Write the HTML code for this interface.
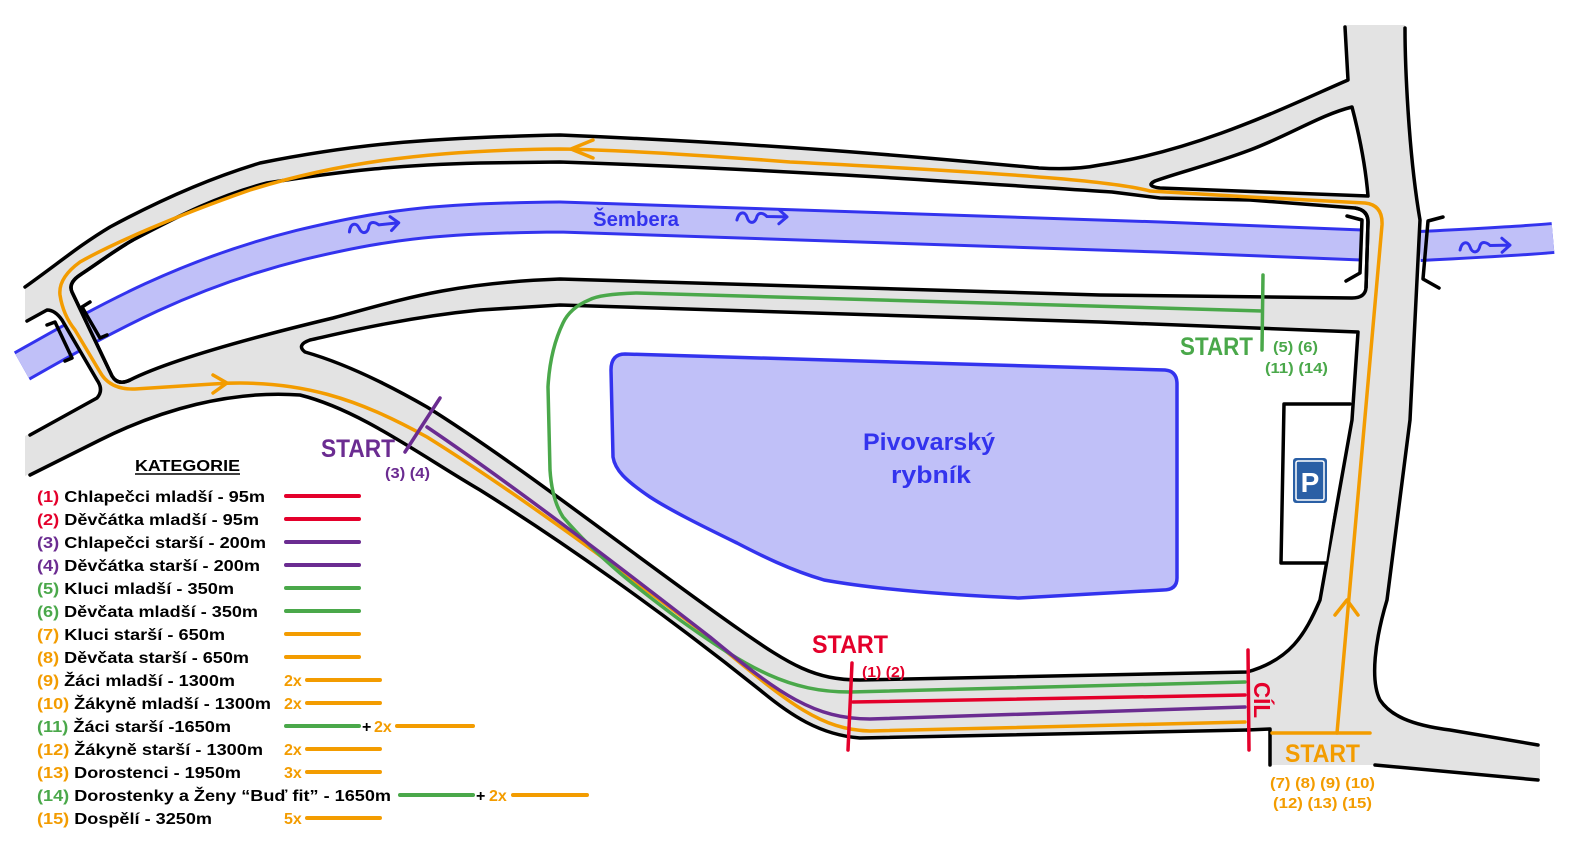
<!DOCTYPE html>
<html><head><meta charset="utf-8"><style>
html,body{margin:0;padding:0;background:#fff;}
svg{display:block;}
text{font-family:"Liberation Sans",sans-serif;font-weight:bold;}
</style></head><body>
<svg width="1575" height="842" viewBox="0 0 1575 842" xmlns="http://www.w3.org/2000/svg">
<defs>
<clipPath id="blk"><path d="M72,292 Q68,283 80,275 C100,262 115,250 133,240 C180,215 220,195 267,183 C350,170 400,165 480,163 L560,162 C800,170 1000,185 1112,192 L1160,198 L1250,200 L1355,208 Q1368,210 1368,222 L1366,288 Q1365,298 1352,298 L1100,295 L560,279 C450,283 400,300 333,318 C250,338 170,360 130,380 Q118,386 112,376 Z"/></clipPath>
</defs>
<g fill="none">
<path d="M22,366 C100,322 180,275 300,245 C380,226 430,218 560,217 L1160,237 L1362,245" stroke="#3333ee" stroke-width="33"/>
<path d="M22,366 C100,322 180,275 300,245 C380,226 430,218 560,217 L1160,237 L1362,245" stroke="#c0c0f8" stroke-width="27"/>
<path d="M1420,246 C1480,243 1520,241 1553,238" stroke="#3333ee" stroke-width="32"/>
<path d="M1420,246 C1480,243 1520,241 1553,238" stroke="#c0c0f8" stroke-width="26"/>
</g>
<path fill="#e3e3e3" d="M25,287 C60,262 80,245 110,227 C160,200 210,178 260,163 C350,145 420,138 560,135 C800,145 950,160 1039,168 C1070,170 1090,167 1100,165 C1200,150 1290,105 1348,80 L1345,25 L1405,25 C1405,60 1408,150 1420,220 L1410,420 L1387,600 C1375,640 1370,680 1380,700 C1390,715 1410,725 1450,730 L1540,745 L1540,780 L1375,765 L1270,765 L1270,729 L1247,730 L860,738 C820,735 790,715 760,690 C660,610 560,540 480,490 C420,455 360,410 300,395 C230,390 160,410 100,440 L25,476 L25,436 L97,398 Q104,390 97,380 L62,320 Q55,310 47,310 L25,322 Z"/>
<g fill="#fff" stroke="#000" stroke-width="3.5" stroke-linejoin="round">
<path d="M72,292 Q68,283 80,275 C100,262 115,250 133,240 C180,215 220,195 267,183 C350,170 400,165 480,163 L560,162 C800,170 1000,185 1112,192 L1160,198 L1250,200 L1355,208 Q1368,210 1368,222 L1366,288 Q1365,298 1352,298 L1100,295 L560,279 C450,283 400,300 333,318 C250,338 170,360 130,380 Q118,386 112,376 Z"/>
<path d="M305,352 Q296,345 310,340 C333,335 400,318 480,310 L560,305 L1100,322 L1358,332 L1352,420 L1320,600 C1305,635 1290,660 1247,672 L860,680 C815,680 790,665 740,630 C640,560 520,465 427,407 C380,380 340,362 305,352 Z"/>
<path d="M1155,181 Q1145,186 1160,188 L1368,196 C1365,160 1358,130 1352,107 C1320,115 1290,135 1250,150 C1210,165 1180,172 1155,181 Z"/>
</g>
<g fill="none" clip-path="url(#blk)">
<path d="M22,366 C100,322 180,275 300,245 C380,226 430,218 560,217 L1160,237 L1362,245" stroke="#3333ee" stroke-width="33"/>
<path d="M22,366 C100,322 180,275 300,245 C380,226 430,218 560,217 L1160,237 L1362,245" stroke="#c0c0f8" stroke-width="27"/>
</g>
<path fill="none" stroke="#000" stroke-width="3.5" d="M72,292 Q68,283 80,275 C100,262 115,250 133,240 M1355,208 Q1368,210 1368,222 L1366,288 M130,380 Q118,386 112,376 L72,292"/>
<g fill="none" stroke="#000" stroke-width="3.5" stroke-linejoin="round" stroke-linecap="round">
<path d="M25,287 C60,262 80,245 110,227 C160,200 210,178 260,163 C350,145 420,138 560,135 C800,145 950,160 1039,168 C1070,170 1090,167 1100,165 C1200,150 1290,105 1348,80 L1345,27"/>
<path d="M1405,28 C1405,60 1408,150 1420,220 L1410,420 L1387,600 C1375,640 1370,680 1380,700 C1390,715 1410,725 1450,730 L1538,745"/>
<path d="M1375,765 L1538,780"/>
<path d="M1247,730 L1270,729 L1270,765"/>
<path d="M1247,730 L860,738 C820,735 790,715 760,690 C660,610 560,540 480,490 C420,455 360,410 300,395 C230,390 160,410 100,440 L30,475"/>
<path d="M30,435 L97,398 Q104,390 97,380 L62,320 Q55,310 47,310 L27,321"/>
<path d="M1350,404 L1284,404 L1281,563 L1326,563" fill="#fff"/>
<path d="M47,325 L55,322 L72,358 L65,361"/>
<path d="M90,302 L82,307 L100,338 L107,335"/>
<path d="M1347,216 L1362,220 L1360,273 L1346,281"/>
<path d="M1443,217 L1428,221 L1423,279 L1439,288"/>
</g>
<rect x="1293" y="458" width="34" height="45" rx="3" fill="#2a5fa5"/>
<rect x="1296" y="461" width="28" height="39" rx="2" fill="none" stroke="#fff" stroke-width="1.5"/>
<text x="1310" y="492" font-size="28" fill="#fff" text-anchor="middle">P</text>
<path d="M625,354 L1165,370 Q1177,371 1177,384 L1177,578 Q1177,590 1163,590 L1019,598 C950,595 880,590 824,580 C790,570 760,555 737,543 C700,525 670,510 650,497 C625,480 615,470 613,457 L611,370 Q611,354 625,354 Z" fill="#c0c0f8" stroke="#3333ee" stroke-width="3.5"/>
<text x="929" y="450" font-size="24" fill="#3333ee" text-anchor="middle" textLength="132" lengthAdjust="spacingAndGlyphs">Pivovarský</text>
<text x="931" y="483" font-size="24" fill="#3333ee" text-anchor="middle" textLength="80" lengthAdjust="spacingAndGlyphs">rybník</text>
<text x="593" y="226" font-size="20" fill="#3333ee" textLength="86" lengthAdjust="spacingAndGlyphs">Šembera</text>
<g fill="none" stroke="#3333ee" stroke-width="3" stroke-linecap="round" stroke-linejoin="round">
<path transform="translate(349,228) rotate(-6)" d="M0,4 C2,-5 8,-5 10,1 C12,8 18,8 20,0 C22,-5 27,-3 30,0 L50,0 M42,-7 L50,0 L42,7"/>
<path transform="translate(737,216) rotate(1)" d="M0,4 C2,-5 8,-5 10,1 C12,8 18,8 20,0 C22,-5 27,-3 30,0 L50,0 M42,-7 L50,0 L42,7"/>
<path transform="translate(1460,246) rotate(-1)" d="M0,4 C2,-5 8,-5 10,1 C12,8 18,8 20,0 C22,-5 27,-3 30,0 L50,0 M42,-7 L50,0 L42,7"/>
</g>
<g fill="none" stroke-width="3.5" stroke-linecap="round" stroke-linejoin="round">
<path stroke="#f39c00" d="M1337,733 L1382,225 Q1383,205 1365,203 L1250,197 L1150,191 C1120,183 1050,175 790,162 C700,155 620,150 560,149 C420,150 330,165 250,190 C170,218 110,245 80,262 Q58,278 60,295 Q63,315 75,330 L100,372 Q110,390 135,389 L213,384 C300,378 360,400 427,437 C520,495 620,570 700,630 C780,695 815,730 870,731 L1245,722"/>
<path stroke="#f39c00" d="M1272,733 L1370,733"/>
<path stroke="#f39c00" d="M593,140 L571,149 L593,158 M213,375 L227,383 L213,393 M1335,615 L1347,600 L1358,615"/>
<path stroke="#4aa84a" d="M1262,311 L1160,308 L637,293 Q600,294 589,300 Q570,308 563,323 Q550,350 548,387 L550,470 Q552,500 563,517 C600,560 640,590 680,620 C750,670 790,692 850,692 L1245,682"/>
<path stroke="#4aa84a" d="M1263,275 L1262,350"/>
<path stroke="#6b2c91" d="M427,427 C520,490 630,575 710,637 C780,695 815,719 870,719 L1245,707"/>
<path stroke="#6b2c91" d="M440,398 L405,452"/>
<path stroke="#e4002b" d="M853,702 L1245,695"/>
<path stroke="#e4002b" d="M852,663 L848,750 M1248,650 L1249,750"/>
</g>
<text x="321" y="457" font-size="25" fill="#6b2c91" textLength="74" lengthAdjust="spacingAndGlyphs">START</text>
<text x="385" y="478" font-size="15" fill="#6b2c91" textLength="45" lengthAdjust="spacingAndGlyphs">(3) (4)</text>
<text x="812" y="653" font-size="25" fill="#e4002b" textLength="76" lengthAdjust="spacingAndGlyphs">START</text>
<text x="862" y="677" font-size="15" fill="#e4002b" textLength="43" lengthAdjust="spacingAndGlyphs">(1) (2)</text>
<text x="1180" y="355" font-size="25" fill="#4aa84a" textLength="73" lengthAdjust="spacingAndGlyphs">START</text>
<text x="1273" y="352" font-size="15" fill="#4aa84a" textLength="45" lengthAdjust="spacingAndGlyphs">(5) (6)</text>
<text x="1265" y="373" font-size="15" fill="#4aa84a" textLength="63" lengthAdjust="spacingAndGlyphs">(11) (14)</text>
<text x="1285" y="762" font-size="25" fill="#f39c00" textLength="75" lengthAdjust="spacingAndGlyphs">START</text>
<text x="1270" y="788" font-size="15" fill="#f39c00" textLength="105" lengthAdjust="spacingAndGlyphs">(7) (8) (9) (10)</text>
<text x="1273" y="808" font-size="15" fill="#f39c00" textLength="99" lengthAdjust="spacingAndGlyphs">(12) (13) (15)</text>
<text transform="translate(1254,682) rotate(90)" font-size="23" fill="#e4002b" textLength="36" lengthAdjust="spacingAndGlyphs">CÍL</text>
<text x="135" y="471" font-size="16" fill="#000" textLength="105" lengthAdjust="spacingAndGlyphs">KATEGORIE</text>
<line x1="135" y1="474" x2="240" y2="474" stroke="#000" stroke-width="1.5"/>
<g font-size="16" fill="#000">
<text x="37" y="502" textLength="228" lengthAdjust="spacingAndGlyphs"><tspan fill="#e4002b">(1)</tspan> Chlapečci mladší - 95m</text>
<text x="37" y="525" textLength="222" lengthAdjust="spacingAndGlyphs"><tspan fill="#e4002b">(2)</tspan> Děvčátka mladší - 95m</text>
<text x="37" y="548" textLength="229" lengthAdjust="spacingAndGlyphs"><tspan fill="#6b2c91">(3)</tspan> Chlapečci starší - 200m</text>
<text x="37" y="571" textLength="223" lengthAdjust="spacingAndGlyphs"><tspan fill="#6b2c91">(4)</tspan> Děvčátka starší - 200m</text>
<text x="37" y="594" textLength="197" lengthAdjust="spacingAndGlyphs"><tspan fill="#4aa84a">(5)</tspan> Kluci mladší - 350m</text>
<text x="37" y="617" textLength="221" lengthAdjust="spacingAndGlyphs"><tspan fill="#4aa84a">(6)</tspan> Děvčata mladší - 350m</text>
<text x="37" y="640" textLength="188" lengthAdjust="spacingAndGlyphs"><tspan fill="#f39c00">(7)</tspan> Kluci starší - 650m</text>
<text x="37" y="663" textLength="212" lengthAdjust="spacingAndGlyphs"><tspan fill="#f39c00">(8)</tspan> Děvčata starší - 650m</text>
<text x="37" y="686" textLength="198" lengthAdjust="spacingAndGlyphs"><tspan fill="#f39c00">(9)</tspan> Žáci mladší - 1300m</text>
<text x="37" y="709" textLength="234" lengthAdjust="spacingAndGlyphs"><tspan fill="#f39c00">(10)</tspan> Žákyně mladší - 1300m</text>
<text x="37" y="732" textLength="194" lengthAdjust="spacingAndGlyphs"><tspan fill="#4aa84a">(11)</tspan> Žáci starší -1650m</text>
<text x="37" y="755" textLength="226" lengthAdjust="spacingAndGlyphs"><tspan fill="#f39c00">(12)</tspan> Žákyně starší - 1300m</text>
<text x="37" y="778" textLength="204" lengthAdjust="spacingAndGlyphs"><tspan fill="#f39c00">(13)</tspan> Dorostenci - 1950m</text>
<text x="37" y="801" textLength="354" lengthAdjust="spacingAndGlyphs"><tspan fill="#4aa84a">(14)</tspan> Dorostenky a Ženy “Buď fit” - 1650m</text>
<text x="37" y="824" textLength="175" lengthAdjust="spacingAndGlyphs"><tspan fill="#f39c00">(15)</tspan> Dospělí - 3250m</text>
</g>
<g font-size="16" fill="#f39c00">
<text x="284" y="686">2x</text>
<text x="284" y="709">2x</text>
<text x="374" y="732">2x</text>
<text x="284" y="755">2x</text>
<text x="284" y="778">3x</text>
<text x="489" y="801">2x</text>
<text x="284" y="824">5x</text>
</g>
<g font-size="16" fill="#000">
<text x="362" y="732">+</text>
<text x="476" y="801">+</text>
</g>
<g stroke-width="4" stroke-linecap="round">
<line x1="286" y1="496" x2="359" y2="496" stroke="#e4002b"/>
<line x1="286" y1="519" x2="359" y2="519" stroke="#e4002b"/>
<line x1="286" y1="542" x2="359" y2="542" stroke="#6b2c91"/>
<line x1="286" y1="565" x2="359" y2="565" stroke="#6b2c91"/>
<line x1="286" y1="588" x2="359" y2="588" stroke="#4aa84a"/>
<line x1="286" y1="611" x2="359" y2="611" stroke="#4aa84a"/>
<line x1="286" y1="634" x2="359" y2="634" stroke="#f39c00"/>
<line x1="286" y1="657" x2="359" y2="657" stroke="#f39c00"/>
<line x1="307" y1="680" x2="380" y2="680" stroke="#f39c00"/>
<line x1="307" y1="703" x2="380" y2="703" stroke="#f39c00"/>
<line x1="286" y1="726" x2="359" y2="726" stroke="#4aa84a"/>
<line x1="397" y1="726" x2="473" y2="726" stroke="#f39c00"/>
<line x1="307" y1="749" x2="380" y2="749" stroke="#f39c00"/>
<line x1="307" y1="772" x2="380" y2="772" stroke="#f39c00"/>
<line x1="400" y1="795" x2="473" y2="795" stroke="#4aa84a"/>
<line x1="513" y1="795" x2="587" y2="795" stroke="#f39c00"/>
<line x1="307" y1="818" x2="380" y2="818" stroke="#f39c00"/>
</g>
</svg>
</body></html>
